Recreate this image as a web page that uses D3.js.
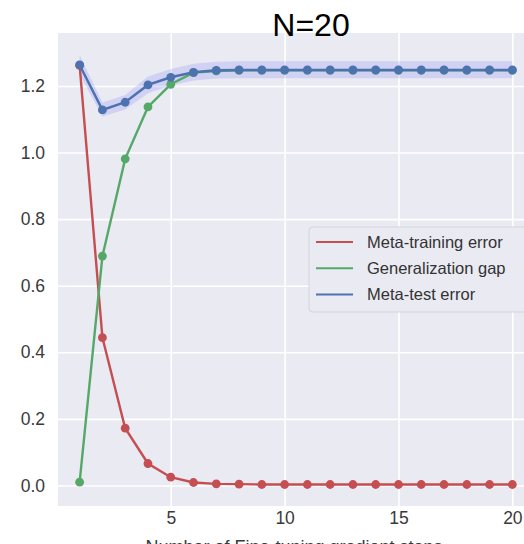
<!DOCTYPE html>
<html>
<head>
<meta charset="utf-8">
<script src="https://cdn.jsdelivr.net/npm/d3@7"></script>
<style>
  html, body { margin: 0; padding: 0; background: #ffffff; }
  svg { display: block; }
</style>
</head>
<body>
<svg id="chart" width="524" height="544"></svg>
<script>
const steps = d3.range(1, 21);
const metaTrain = [1.262, 0.444, 0.172, 0.066, 0.025, 0.009, 0.005, 0.004, 0.003, 0.003, 0.003, 0.003, 0.003, 0.003, 0.003, 0.003, 0.003, 0.003, 0.003, 0.003];
const genGap    = [0.010, 0.689, 0.981, 1.137, 1.205, 1.240, 1.245, 1.247, 1.247, 1.247, 1.247, 1.247, 1.247, 1.247, 1.247, 1.247, 1.247, 1.247, 1.247, 1.247];
const metaTest  = [1.263, 1.128, 1.151, 1.203, 1.226, 1.241, 1.247, 1.248, 1.248, 1.248, 1.248, 1.248, 1.248, 1.248, 1.248, 1.248, 1.248, 1.248, 1.248, 1.248];
const testUpper = [1.293, 1.150, 1.173, 1.228, 1.251, 1.267, 1.273, 1.274, 1.274, 1.274, 1.274, 1.274, 1.274, 1.274, 1.274, 1.274, 1.274, 1.274, 1.274, 1.274];
const testLower = [1.235, 1.108, 1.129, 1.178, 1.201, 1.216, 1.222, 1.223, 1.223, 1.223, 1.223, 1.223, 1.223, 1.223, 1.223, 1.223, 1.223, 1.223, 1.223, 1.223];
const xTicks = [5, 10, 15, 20];
const yTicks = [0.0, 0.2, 0.4, 0.6, 0.8, 1.0, 1.2];
const seriesNames = ["Meta-training error", "Generalization gap", "Meta-test error"];
const seriesColors = ["#C44E52", "#55A868", "#4C72B0"];
const titleText = "N=20";
const xLabel = "Number of Fine-tuning gradient steps";

const svg = d3.select("#chart");
const pL = 58, pR = 534, pT = 33, pB = 506;
const x = d3.scaleLinear().domain([0.05, 20.95]).range([pL, pR]);
const y = d3.scaleLinear().domain([-0.0616, 1.359]).range([pB, pT]);

svg.append("rect").attr("x", pL).attr("y", pT).attr("width", pR - pL).attr("height", pB - pT).attr("fill", "#EAEAF2");

// grid via axes
const gx = svg.append("g").attr("transform", `translate(0,${pB})`)
  .call(d3.axisBottom(x).tickValues(xTicks).tickSize(-(pB - pT)).tickFormat(d3.format("d")).tickPadding(6));
const gy = svg.append("g").attr("transform", `translate(${pL},0)`)
  .call(d3.axisLeft(y).tickValues(yTicks).tickSize(-(pR - pL)).tickFormat(d3.format(".1f")).tickPadding(13));
[gx, gy].forEach(g => {
  g.select(".domain").remove();
  g.selectAll(".tick line").attr("stroke", "#ffffff").attr("stroke-width", 1.6);
  g.selectAll(".tick text").attr("fill", "#3a3a3a").style("font-family", "'Liberation Sans', Arial, sans-serif").style("font-size", "17.5px");
});
gx.selectAll(".tick text").attr("dy", "0.71em").attr("y", 6);

// band
const area = d3.area().x((d, i) => x(steps[i])).y0((d, i) => y(testLower[i])).y1((d, i) => y(testUpper[i])).curve(d3.curveLinear);
svg.append("path").datum(steps).attr("d", area).attr("fill", "#6f6fff").attr("opacity", 0.2);

const allSeries = [metaTrain, genGap, metaTest];
allSeries.forEach((vals, k) => {
  const line = d3.line().x((d, i) => x(steps[i])).y(d => y(d));
  svg.append("path").datum(vals).attr("d", line).attr("fill", "none")
    .attr("stroke", seriesColors[k]).attr("stroke-width", 2.4);
  svg.append("g").selectAll("circle").data(vals).join("circle")
    .attr("cx", (d, i) => x(steps[i])).attr("cy", d => y(d)).attr("r", 4.4)
    .attr("fill", seriesColors[k]);
});

// legend
const lg = svg.append("g");
lg.append("rect").attr("x", 309).attr("y", 227).attr("width", 220).attr("height", 85).attr("rx", 4)
  .attr("fill", "#EAEAF2").attr("stroke", "#d4d4dc").attr("stroke-width", 1);
seriesNames.forEach((name, k) => {
  const yy = 242 + k * 26.2;
  lg.append("line").attr("x1", 316).attr("x2", 353).attr("y1", yy).attr("y2", yy)
    .attr("stroke", seriesColors[k]).attr("stroke-width", 2);
  lg.append("text").attr("x", 367).attr("y", yy).attr("dy", "0.36em").text(name)
    .attr("fill", "#333333").style("font-family", "'Liberation Sans', Arial, sans-serif").style("font-size", "16.5px");
});

// title and x label
svg.append("text").attr("x", 311).attr("y", 36).attr("text-anchor", "middle").text(titleText)
  .attr("fill", "#000").style("font-family", "'Liberation Sans', Arial, sans-serif").style("font-size", "32px");
svg.append("text").attr("x", 294).attr("y", 553).attr("text-anchor", "middle").text(xLabel)
  .attr("fill", "#3a3a3a").style("font-family", "'Liberation Sans', Arial, sans-serif").style("font-size", "18px");
</script>
</body>
</html>
